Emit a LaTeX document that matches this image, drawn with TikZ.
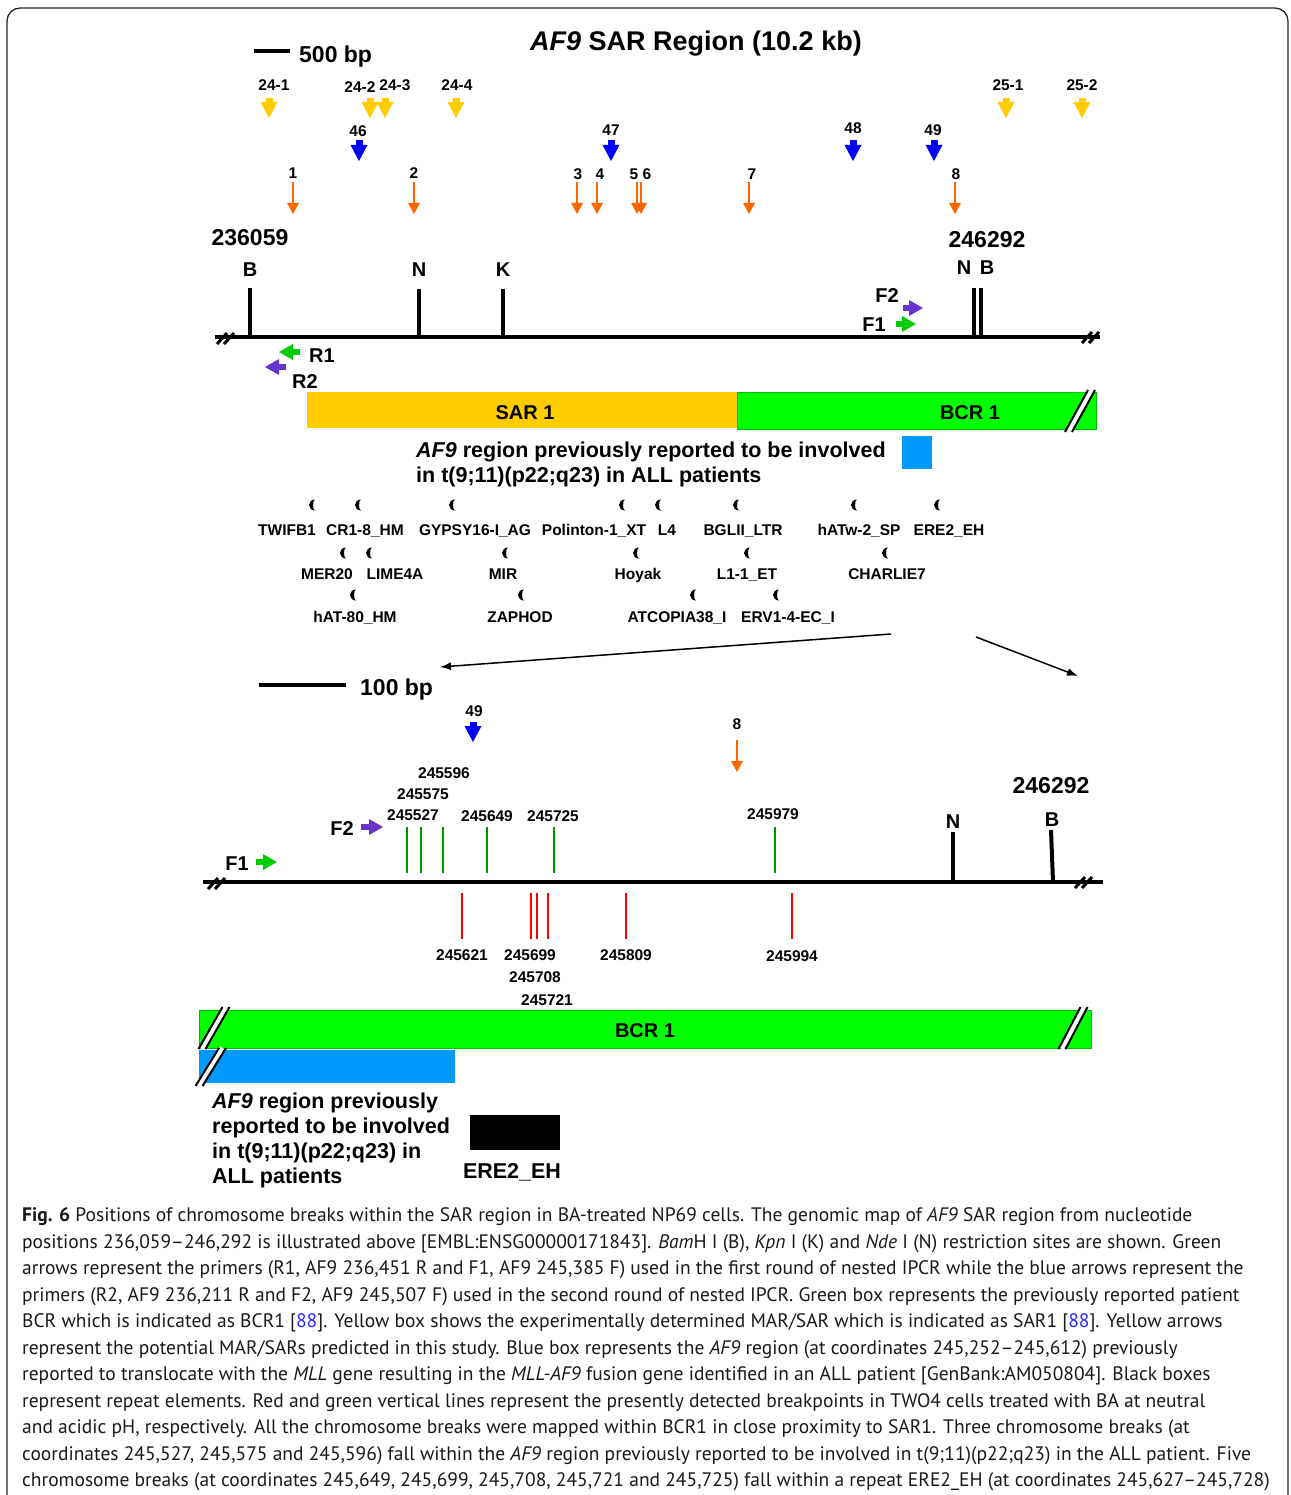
\documentclass[tikz,border=0pt]{standalone}
\usepackage{fontspec}
\setmainfont{Liberation Sans}
\newfontfamily\capfont{PT Sans}
\usepackage{tikz}
\usetikzlibrary{positioning, calc, arrows.meta}
\definecolor{afYellow}{RGB}{255,204,0}
\definecolor{afBlue}{RGB}{0,0,255}
\definecolor{afOrange}{RGB}{255,102,0}
\definecolor{afPurple}{RGB}{102,51,204}
\definecolor{afPrimer}{RGB}{0,204,0}
\definecolor{afBar}{RGB}{0,255,0}
\definecolor{afBarEdge}{RGB}{0,185,0}
\definecolor{afSky}{RGB}{0,153,255}
\definecolor{afAcid}{RGB}{0,150,0}
\definecolor{afLink}{RGB}{40,40,255}
% small black repeat mark
\newcommand{\rptmark}[2]{\fill (#1+3,#2-5.5) arc[start angle=270, end angle=90, x radius=6, y radius=5.5] arc[start angle=90, end angle=270, x radius=2, y radius=5.5] -- cycle;}
% break on the map line
\newcommand{\linebrk}[2]{\draw[line width=3pt] (#1-9,#2+6) -- (#1+1,#2-5); \draw[line width=3pt] (#1-2,#2+6) -- (#1+8,#2-5);}
% break across a bar
\newcommand{\barbrk}[4]{\draw[white, line width=5pt] (#1,#2) -- (#3,#4); \draw[line width=2pt] (#1-3.5,#2) -- (#3-3.5,#4); \draw[line width=2pt] (#1+3.5,#2) -- (#3+3.5,#4);}

\begin{document}
\begin{tikzpicture}[
    x=1pt, y=-1pt,
    num/.style={font=\fontsize{15.5}{17}\selectfont\bfseries, anchor=base, inner sep=0pt},
    site/.style={font=\fontsize{20}{22}\selectfont\bfseries, anchor=base, inner sep=0pt},
    big/.style={font=\fontsize{23}{25}\selectfont\bfseries, anchor=base, inner sep=0pt},
    note/.style={font=\fontsize{21.5}{25}\selectfont\bfseries, align=left, anchor=base west, inner sep=0pt},
    fat/.style={line width=7pt, -{Triangle[length=16pt, width=17pt, line width=0pt]}},
    thin/.style={afOrange, line width=2.5pt, -{Triangle[length=11pt, width=12pt, line width=0pt]}},
    primer/.style={line width=6pt, -{Triangle[length=14pt, width=16pt, line width=0pt]}},
    tick/.style={line width=4pt},
    acid/.style={afAcid, line width=2.5pt},
    neutral/.style={red, line width=2.5pt}
  ]
  \useasboundingbox (0,0) rectangle (1290,1495);
  \draw[line width=1.3pt, draw=black!85, rounded corners=13pt] (7,1495) -- (7,8) -- (1288,8) -- (1288,1495);

  % title and scale
  \node[anchor=base, inner sep=0pt, font=\fontsize{27}{30}\selectfont\bfseries] (title) at (696,51) {\textit{AF9} SAR Region (10.2 kb)};
  \draw[line width=4pt] (254,51) -- (290,51);
  \node[big, anchor=base west] (sc500) at (299,63) {500 bp};

  % predicted MAR/SARs
  \draw[fat, afYellow] (269,98) -- (269,118);
  \draw[fat, afYellow] (370,98) -- (370,118);
  \draw[fat, afYellow] (385,98) -- (385,118);
  \draw[fat, afYellow] (456,98) -- (456,118);
  \draw[fat, afYellow] (1006,98) -- (1006,118);
  \draw[fat, afYellow] (1082,98) -- (1082,118);
  \node[num] (y241) at (274,90.5) {24-1};
  \node[num] (y242) at (360,92.5) {24-2};
  \node[num] (y243) at (395,90.5) {24-3};
  \node[num] (y244) at (457,90.5) {24-4};
  \node[num] (y251) at (1008,90.5) {25-1};
  \node[num] (y252) at (1082,90.5) {25-2};

  \draw[fat, afBlue] (359,140) -- (359,161);
  \draw[fat, afBlue] (611,140) -- (611,161);
  \draw[fat, afBlue] (853,140) -- (853,161);
  \draw[fat, afBlue] (934,140) -- (934,161);
  \node[num] (b46) at (358,136.5) {46};
  \node[num] (b47) at (611,135.5) {47};
  \node[num] (b48) at (853,133.5) {48};
  \node[num] (b49) at (933,135.5) {49};

  \draw[thin] (293,182) -- (293,214);
  \draw[thin] (414,182) -- (414,214);
  \draw[thin] (577,182) -- (577,214);
  \draw[thin] (597,182) -- (597,214);
  \draw[thin] (637,182) -- (637,214);
  \draw[thin] (641,182) -- (641,214);
  \draw[thin] (749,182) -- (749,214);
  \draw[thin] (955,182) -- (955,214);
  \node[num] (o1) at (293,178.5) {1};
  \node[num] (o2) at (414,178.5) {2};
  \node[num] (o3) at (578,179.5) {3};
  \node[num] (o4) at (600,179.5) {4};
  \node[num] (o5) at (634,179.5) {5};
  \node[num] (o6) at (647,179.5) {6};
  \node[num] (o7) at (752,179.5) {7};
  \node[num] (o8) at (956,179.5) {8};

  % genomic map
  \node[big] (start) at (250,246) {236059};
  \node[big] (stop) at (987,248) {246292};
  \draw[line width=4pt] (215,337) -- (1100,337);
  \linebrk{226}{338}
  \linebrk{1091}{337}
  \draw[tick] (250,288) -- (250,337);
  \draw[tick] (419,289) -- (419,337);
  \draw[tick] (503,289) -- (503,337);
  \draw[tick] (974,288) -- (974,337);
  \draw[tick] (981,288) -- (981,337);
  \node[site] (sB) at (250,277) {B};
  \node[site] (sN) at (419,277) {N};
  \node[site] (sK) at (503,277) {K};
  \node[site] (eN) at (964,275) {N};
  \node[site] (eB) at (987,275) {B};

  \draw[primer, afPurple] (903,308) -- (923,308);
  \draw[primer, afPrimer] (896,324) -- (916,324);
  \draw[primer, afPrimer] (300,352) -- (279,352);
  \draw[primer, afPurple] (286,367) -- (265,367);
  \node[site] (f2) at (887,303) {F2};
  \node[site] (f1) at (874,331) {F1};
  \node[site] (r1) at (322,362) {R1};
  \node[site] (r2) at (305,388) {R2};

  % SAR and BCR
  \fill[afYellow] (307,392) rectangle (737,428);
  \draw[afBarEdge, fill=afBar, line width=1pt] (737,392) rectangle (1096,429);
  \barbrk{1068.5}{432}{1091.5}{390}
  \node[site] (sar) at (525,419) {SAR 1};
  \node[site] (bcr) at (970,419) {BCR 1};
  \fill[afSky] (902,436) rectangle (932,469);
  \node[note] (af9a) at (416,482) {\textit{AF9} region previously reported to be involved\\in t(9;11)(p22;q23) in ALL patients};

  % repeat elements
  \rptmark{312}{505} \rptmark{358}{505} \rptmark{452}{505} \rptmark{622}{505}
  \rptmark{658}{505} \rptmark{736}{505} \rptmark{854}{505} \rptmark{937}{505}
  \node[num] (twi) at (287,535) {TWIFB1};
  \node[num] (cr1) at (365,535) {CR1-8\_HM};
  \node[num] (gyp) at (475,535) {GYPSY16-I\_AG};
  \node[num] (pol) at (594,535) {Polinton-1\_XT};
  \node[num] (l4) at (667,535) {L4};
  \node[num] (bgl) at (743,535) {BGLII\_LTR};
  \node[num] (hatw) at (859,535) {hATw-2\_SP};
  \node[num] (ere) at (949,535) {ERE2\_EH};
  \rptmark{343}{553} \rptmark{369}{553} \rptmark{505}{553}
  \rptmark{636}{553} \rptmark{747}{553} \rptmark{885}{553}
  \node[num] (mer) at (327,579) {MER20};
  \node[num] (lime) at (395,579) {LIME4A};
  \node[num] (mir) at (503,579) {MIR};
  \node[num] (hoy) at (638,579) {Hoyak};
  \node[num] (l11) at (747,579) {L1-1\_ET};
  \node[num] (cha) at (887,579) {CHARLIE7};
  \rptmark{353}{595} \rptmark{521}{595} \rptmark{693}{595} \rptmark{776}{595}
  \node[num] (hat80) at (355,622.5) {hAT-80\_HM};
  \node[num] (zap) at (520,622.5) {ZAPHOD};
  \node[num] (atc) at (677,622.5) {ATCOPIA38\_I};
  \node[num] (erv) at (788,622.5) {ERV1-4-EC\_I};

  % zoom into BCR 1
  \coordinate (zA) at (891,634);
  \coordinate (zA2) at (440,667);
  \coordinate (zB) at (976,637);
  \coordinate (zB2) at (1078,676);
  \draw[line width=1.5pt, -{Latex[length=11pt, width=8pt]}] (zA) -- (zA2);
  \draw[line width=1.5pt, -{Latex[length=11pt, width=8pt]}] (zB) -- (zB2);

  \draw[line width=4pt] (259,685) -- (346,685);
  \node[big, anchor=base west] (sc100) at (360,695) {100 bp};
  \draw[fat, afBlue] (473,722) -- (473,742);
  \node[num] (z49) at (474,716.5) {49};
  \draw[thin] (737,740) -- (737,772);
  \node[num] (z8) at (737,729.5) {8};

  \draw[line width=4pt] (203,882) -- (1103,882);
  \linebrk{217}{883}
  \linebrk{1084}{882}
  \node[big] (stop2) at (1051,793) {246292};
  \draw[tick] (953,832) -- (953,882);
  \draw[tick] (1051,830) -- (1053,882);
  \node[site] (zN) at (953,828) {N};
  \node[site] (zB) at (1052,826) {B};
  \draw[primer, afPurple] (361,827) -- (383,827);
  \draw[primer, afPrimer] (256,862) -- (277,862);
  \node[site] (zf2) at (342,835) {F2};
  \node[site] (zf1) at (237,870) {F1};

  % breaks at acidic pH
  \draw[acid] (407,827) -- (407,873);
  \draw[acid] (421,827) -- (421,873);
  \draw[acid] (443,827) -- (443,873);
  \draw[acid] (487,827) -- (487,873);
  \draw[acid] (554,827) -- (554,873);
  \draw[acid] (775,827) -- (775,873);
  \node[num] (g527) at (413,820.5) {245527};
  \node[num] (g575) at (423,799.5) {245575};
  \node[num] (g596) at (444,778.5) {245596};
  \node[num] (g649) at (487,821.5) {245649};
  \node[num] (g725) at (553,821.5) {245725};
  \node[num] (g979) at (773,819.5) {245979};

  % breaks at neutral pH
  \draw[neutral] (462,893) -- (462,939);
  \draw[neutral] (531,893) -- (531,939);
  \draw[neutral] (537,893) -- (537,939);
  \draw[neutral] (548,893) -- (548,939);
  \draw[neutral] (626,893) -- (626,939);
  \draw[neutral] (792,893) -- (792,939);
  \node[num] (r621) at (462,960.5) {245621};
  \node[num] (r699) at (530,960.5) {245699};
  \node[num] (r708) at (535,982.5) {245708};
  \node[num] (r721) at (547,1005.5) {245721};
  \node[num] (r809) at (626,960.5) {245809};
  \node[num] (r994) at (792,961.5) {245994};

  \draw[afBarEdge, fill=afBar, line width=1pt] (199,1010) rectangle (1091,1048);
  \node[site] (bcr2) at (645,1037) {BCR 1};
  \fill[afSky] (199,1050) rectangle (455,1083);
  \barbrk{202}{1049}{226}{1007}
  \barbrk{199}{1086}{222.5}{1048}
  \barbrk{1062}{1049}{1084}{1007}
  \node[note] (af9b) at (212,1183) {\textit{AF9} region previously\\reported to be involved\\in t(9;11)(p22;q23) in\\ALL patients};
  \fill (470,1115) rectangle (560,1150);
  \node[note, anchor=base] (ereb) at (512,1178) {ERE2\_EH};

  % caption
  \node[anchor=base west, align=left, inner sep=0pt, text=black!90, font=\capfont\fontsize{19.5}{26.5}\selectfont] (cap) at (22,1486.5) {%
\textbf{Fig. 6} Positions of chromosome breaks within the SAR region in BA-treated NP69 cells. The genomic map of \textit{AF9} SAR region from nucleotide\\
positions 236,059–246,292 is illustrated above [EMBL:ENSG00000171843]. \textit{Bam}H I (B), \textit{Kpn} I (K) and \textit{Nde} I (N) restriction sites are shown. Green\\
arrows represent the primers (R1, AF9 236,451 R and F1, AF9 245,385 F) used in the first round of nested IPCR while the blue arrows represent the\\
primers (R2, AF9 236,211 R and F2, AF9 245,507 F) used in the second round of nested IPCR. Green box represents the previously reported patient\\
BCR which is indicated as BCR1 [{\color{afLink}88}]. Yellow box shows the experimentally determined MAR/SAR which is indicated as SAR1 [{\color{afLink}88}]. Yellow arrows\\
represent the potential MAR/SARs predicted in this study. Blue box represents the \textit{AF9} region (at coordinates 245,252–245,612) previously\\
reported to translocate with the \textit{MLL} gene resulting in the \textit{MLL-AF9} fusion gene identified in an ALL patient [GenBank:AM050804]. Black boxes\\
represent repeat elements. Red and green vertical lines represent the presently detected breakpoints in TWO4 cells treated with BA at neutral\\
and acidic pH, respectively. All the chromosome breaks were mapped within BCR1 in close proximity to SAR1. Three chromosome breaks (at\\
coordinates 245,527, 245,575 and 245,596) fall within the \textit{AF9} region previously reported to be involved in t(9;11)(p22;q23) in the ALL patient. Five\\
chromosome breaks (at coordinates 245,649, 245,699, 245,708, 245,721 and 245,725) fall within a repeat ERE2\_EH (at coordinates 245,627–245,728)};
\end{tikzpicture}
\end{document}
